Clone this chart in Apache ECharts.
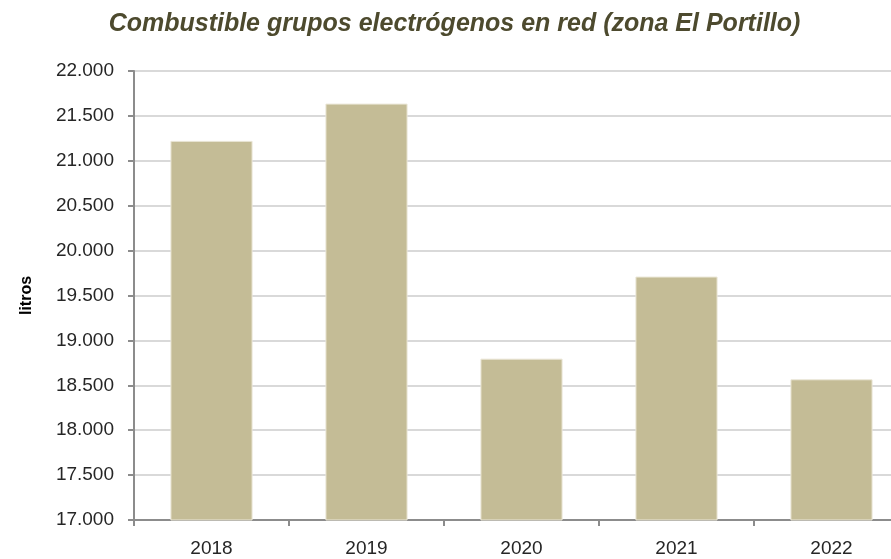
<!DOCTYPE html>
<html><head><meta charset="utf-8">
<script src="https://cdn.jsdelivr.net/npm/echarts@6/dist/echarts.min.js"></script>
<style>html,body{margin:0;padding:0;background:#fff;overflow:hidden;width:891px;height:559px}#c{width:909px;height:559px}</style>
</head><body><div id="c"></div>
<script>
const categories = ['2018','2019','2020','2021','2022'];
const litros = [21222, 21637, 18797, 19711, 18567];
const yTicks = {min: 17000, max: 22000, interval: 500};
const titleText = 'Combustible grupos electrógenos en red (zona El Portillo)';
const yName = 'litros';

const fmt = v => {
  const s = String(Math.round(v));
  return s.replace(/\B(?=(\d{3})+(?!\d))/g, '.');
};

const chart = echarts.init(document.getElementById('c'), null, {renderer:'canvas'});
chart.setOption({
  animation: false,
  backgroundColor: '#ffffff',
  title: {
    text: titleText,
    left: 'center',
    top: 7,
    textStyle: {fontFamily: 'Liberation Sans', fontStyle: 'italic', fontWeight: 'bold', fontSize: 25, color: '#4d4a2e'}
  },
  grid: {left: 134, right: 0, top: 71, bottom: 39, containLabel: false},
  xAxis: {
    type: 'category',
    data: categories,
    axisLine: {lineStyle: {color: '#8c8c8c', width: 2}},
    axisTick: {show: true, length: 6, alignWithLabel: false, lineStyle: {color: '#8c8c8c', width: 2}},
    axisLabel: {margin: 19, fontFamily: 'Liberation Sans', fontSize: 19, color: '#262626'}
  },
  yAxis: {
    type: 'value',
    min: yTicks.min, max: yTicks.max, interval: yTicks.interval,
    name: yName,
    nameLocation: 'middle',
    nameGap: 99,
    nameRotate: 90,
    nameTextStyle: {fontFamily: 'Liberation Sans', fontWeight: 'bold', fontSize: 16, color: '#000'},
    axisLine: {show: true, lineStyle: {color: '#8c8c8c', width: 2}},
    axisTick: {show: true, length: 6, lineStyle: {color: '#8c8c8c', width: 2}},
    axisLabel: {margin: 20, fontFamily: 'Liberation Sans', fontSize: 19, color: '#262626', formatter: fmt},
    splitLine: {lineStyle: {color: '#d9d9d9', width: 2}}
  },
  series: [{
    type: 'bar',
    data: litros,
    barWidth: '53%',
    itemStyle: {color: '#c4bc96', borderColor: '#ebe7d8', borderWidth: 1}
  }]
});
</script></body></html>
